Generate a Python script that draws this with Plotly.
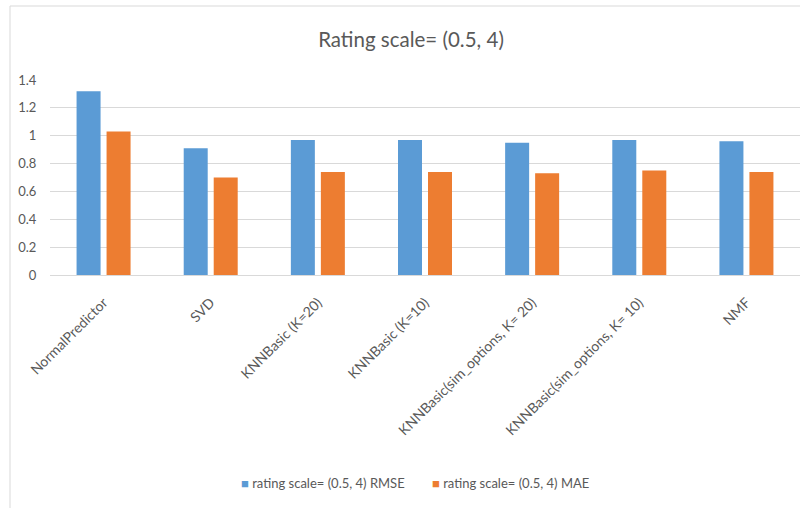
import plotly.graph_objects as go

# Recommender algorithms evaluated on ratings scaled to (0.5, 4)
algorithms = [
    "NormalPredictor",
    "SVD",
    "KNNBasic (K=20)",
    "KNNBasic (K=10)",
    "KNNBasic(sim_options, K= 20)",
    "KNNBasic(sim_options, K= 10)",
    "NMF",
]
rmse = [1.32, 0.91, 0.97, 0.97, 0.95, 0.97, 0.96]
mae = [1.03, 0.70, 0.74, 0.74, 0.73, 0.75, 0.74]

series_names = ["rating scale= (0.5, 4) RMSE", "rating scale= (0.5, 4) MAE"]
y_ticks = [0, 0.2, 0.4, 0.6, 0.8, 1, 1.2, 1.4]
y_tick_text = ["0", "0.2", "0.4", "0.6", "0.8", "1", "1.2", "1.4"]

BLUE = "#5B9BD5"
ORANGE = "#ED7D31"
TEXT = "#595959"
GRID = "#D9D9D9"
FONT = "Lato, Open Sans, sans-serif"

W, H = 801, 509
M_L, M_R, M_T, M_B = 50, 1, 80, 234
PW = W - M_L - M_R
PH = H - M_T - M_B


def px_x(px):
    return (px - M_L) / PW


def px_y(py):
    return (H - M_B - py) / PH


fig = go.Figure()
for name, vals, color in zip(series_names, (rmse, mae), (BLUE, ORANGE)):
    fig.add_trace(go.Bar(x=algorithms, y=vals, name=name, marker_color=color,
                         marker_line_width=0, showlegend=False))

# chart frame: top and left edges
frame = dict(color=GRID, width=1)
fig.add_shape(type="line", xref="paper", yref="paper", layer="below",
              x0=px_x(10), x1=px_x(W - 1), y0=px_y(6), y1=px_y(6), line=frame)
fig.add_shape(type="line", xref="paper", yref="paper", layer="below",
              x0=px_x(10), x1=px_x(10), y0=px_y(6), y1=px_y(H - 1), line=frame)

# legend row below the category labels
legend_y = px_y(483)
for name, color, x_left in zip(series_names, (BLUE, ORANGE), (239, 430)):
    fig.add_annotation(
        xref="paper", yref="paper", x=px_x(x_left), y=legend_y,
        xanchor="left", yanchor="middle", showarrow=False,
        text=f"<span style='color:{color}'>■</span> {name}",
        font=dict(size=13, color=TEXT, family=FONT),
    )

fig.update_layout(
    width=W, height=H,
    margin=dict(l=M_L, r=M_R, t=M_T, b=M_B),
    paper_bgcolor="white", plot_bgcolor="white",
    font=dict(family=FONT, color=TEXT, size=13),
    title=dict(text="Rating scale= (0.5, 4)", x=px_x(411), xref="paper",
               xanchor="center", y=1 - 40 / H, yanchor="middle",
               font=dict(size=20.5, color=TEXT, family=FONT)),
    barmode="group", bargap=0.44, bargroupgap=0.2,
    showlegend=False,
)
fig.update_xaxes(tickangle=-45, showgrid=False, showline=True, linecolor=GRID,
                 linewidth=1, ticks="outside", ticklen=13,
                 tickcolor="rgba(0,0,0,0)", tickfont=dict(size=14, color=TEXT))
fig.update_yaxes(range=[0, 1.4], tickvals=y_ticks, ticktext=y_tick_text,
                 showgrid=True, gridcolor=GRID, gridwidth=1, zeroline=False,
                 showline=False, ticks="outside", ticklen=10,
                 tickcolor="rgba(0,0,0,0)", tickfont=dict(size=13, color=TEXT))

fig.write_html("out.html", config={"displayModeBar": False})
